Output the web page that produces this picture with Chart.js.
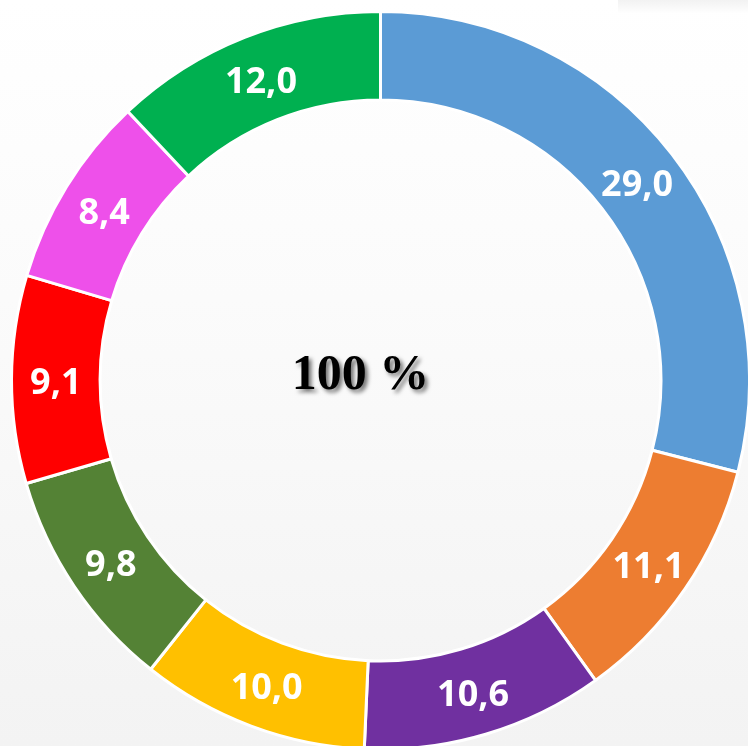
<!DOCTYPE html>
<html>
<head>
<meta charset="utf-8">
<script src="https://cdn.jsdelivr.net/npm/chart.js@4"></script>
<style>
  html, body { margin: 0; padding: 0; overflow: hidden; }
  body {
    width: 748px; height: 746px;
    background: linear-gradient(to bottom, #ffffff 0%, #fbfbfb 40%, #f3f3f3 100%);
    position: relative;
  }
  #shade {
    position: absolute; right: 0; top: 0; width: 130px; height: 14px;
    background: linear-gradient(to bottom, rgba(0,0,0,0.05), rgba(0,0,0,0));
  }
  #wrap { position: absolute; left: 0; top: 0; width: 760px; height: 760px; }
</style>
</head>
<body>
<div id="shade"></div>
<div id="wrap"><canvas id="chart" width="760" height="760"></canvas></div>
<script>
const categories = ['A', 'B', 'C', 'D', 'E', 'F', 'G', 'H'];
const values = [29.0, 11.1, 10.6, 10.0, 9.8, 9.1, 8.4, 12.0];
const colors = ['#5B9BD5', '#ED7D31', '#7030A0', '#FFC000', '#548235', '#FF0000', '#EE50EA', '#00B050'];
const centerText = '100 %';

// etiquetas blancas en cada segmento
const sliceLabels = {
    id: 'sliceLabels',
    afterDatasetsDraw(chart) {
        const ctx = chart.ctx;
        const meta = chart.getDatasetMeta(0);
        ctx.save();
        ctx.fillStyle = '#ffffff';
        ctx.font = 'bold 36px "Open Sans"';
        ctx.textAlign = 'center';
        ctx.textBaseline = 'middle';
        meta.data.forEach((arc, i) => {
            const pos = arc.tooltipPosition();
            ctx.fillText(values[i].toFixed(1).replace('.', ','), pos.x, pos.y + 4);
        });
        ctx.restore();
    }
};

// texto central con sombra
const centerLabel = {
    id: 'centerLabel',
    afterDraw(chart) {
        const ctx = chart.ctx;
        const arc = chart.getDatasetMeta(0).data[0];
        ctx.save();
        ctx.font = 'bold 50px "Liberation Serif"';
        ctx.textAlign = 'center';
        ctx.textBaseline = 'middle';
        ctx.shadowColor = 'rgba(0,0,0,0.55)';
        ctx.shadowOffsetX = 3;
        ctx.shadowOffsetY = 3;
        ctx.shadowBlur = 4;
        ctx.fillStyle = '#000000';
        ctx.fillText(centerText, arc.x - 20, arc.y - 4);
        ctx.restore();
    }
};

new Chart(document.getElementById('chart'), {
    type: 'doughnut',
    data: {
        labels: categories,
        datasets: [{
            data: values,
            backgroundColor: colors,
            borderColor: '#ffffff',
            borderWidth: 3
        }]
    },
    options: {
        responsive: false,
        animation: false,
        cutout: '76%',
        layout: { padding: { left: 10, top: 10, right: 9, bottom: 9 } },
        plugins: {
            legend: { display: false },
            tooltip: { enabled: false }
        }
    },
    plugins: [sliceLabels, centerLabel]
});
</script>
</body>
</html>
